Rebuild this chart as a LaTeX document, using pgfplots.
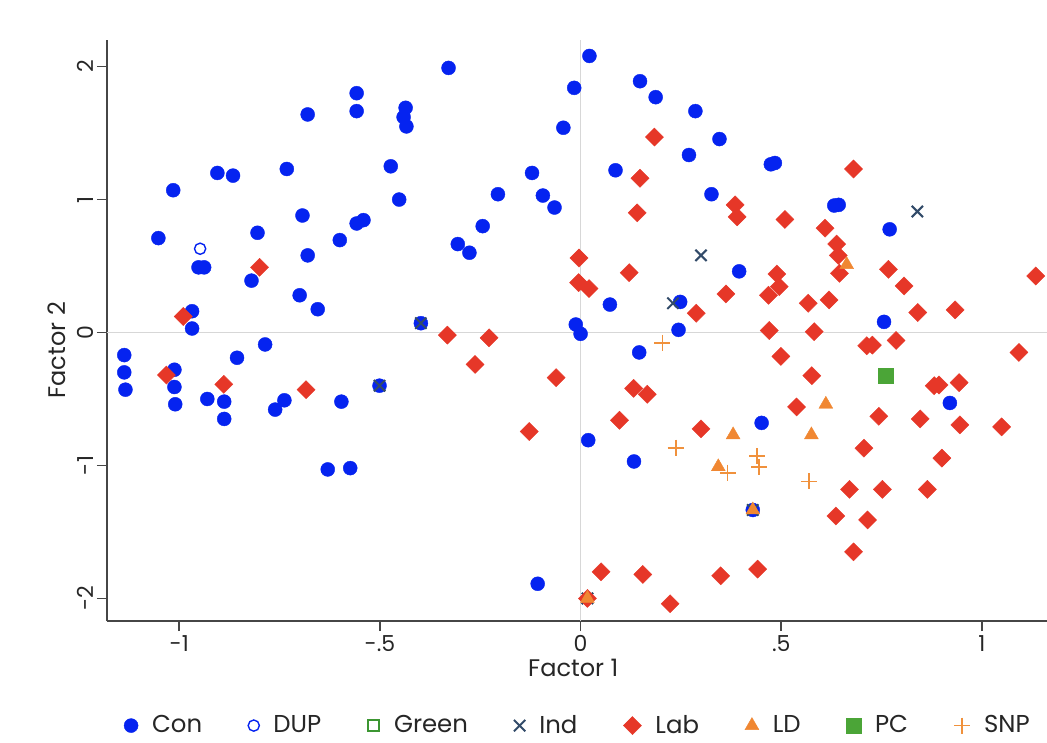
\documentclass[border=0pt]{standalone}
\usepackage{fontspec}
\setmainfont{Poppins}
\usepackage{pgfplots}
\pgfplotsset{compat=1.18}
\definecolor{conc}{RGB}{5,35,240}
\definecolor{labc}{RGB}{230,55,40}
\definecolor{ldc}{RGB}{240,135,50}
\definecolor{snpc}{RGB}{240,145,60}
\definecolor{pcc}{RGB}{75,165,55}
\definecolor{grc}{RGB}{60,150,50}
\definecolor{indc}{RGB}{50,75,105}
\definecolor{axc}{RGB}{70,70,70}
\definecolor{refc}{RGB}{215,215,215}
\begin{document}
\begin{tikzpicture}
\begin{axis}[name=ax, scale only axis, width=470pt, height=290.5pt,
  xmin=-1.18, xmax=1.162, ymin=-2.17, ymax=2.2,
  axis x line*=bottom, axis y line*=left,
  axis line style={draw=axc, line width=0.8pt},
  tick align=outside, major tick length=5pt,
  tick style={draw=axc, line width=0.8pt},
  xtick={-1,-0.5,0,0.5,1}, xticklabels={-1,-.5,0,.5,1},
  ytick={-2,-1,0,1,2}, yticklabels={-2,-1,0,1,2},
  ticklabel style={font=\fontsize{11}{13}\selectfont, text=black!85},
  yticklabel style={rotate=90, anchor=south, inner sep=0pt, yshift=1.5pt},
  xticklabel style={inner sep=2pt},
  xlabel={Factor 1}, ylabel={Factor 2},
  label style={font=\fontsize{12}{14}\selectfont, text=black!85},
  xlabel style={at={(axis description cs:0.496,-0.065)}, anchor=north, inner sep=0pt},
  ylabel style={at={(axis description cs:-0.053,0.466)}, rotate=0, anchor=center, inner sep=0pt},
  legend columns=8,
  legend style={at={(axis description cs:0.502,-0.18)}, anchor=center, draw=none,
    font=\fontsize{12.2}{14}\selectfont, text=black!85,
    /tikz/every even column/.append style={column sep=21pt},
    /tikz/every odd column/.append style={column sep=5pt},
    inner sep=0pt},
  legend cell align=left,
  clip=false,
]
\draw[refc, line width=0.8pt] (axis cs:0,-2.17) -- (axis cs:0,2.2);
\draw[refc, line width=0.8pt] (axis cs:-1.18,0) -- (axis cs:1.162,0);
% Con
\addplot[only marks, mark=*, mark size=3.5pt, mark options={draw=conc, fill=conc, line width=0.2pt}] coordinates {
(0.022,2.08) (-0.329,1.99) (0.148,1.89) (0.187,1.77) (-0.558,1.80) (-0.558,1.665)
(-0.68,1.64) (-0.436,1.69) (-0.441,1.62) (-0.434,1.55) (-0.016,1.84) (-0.043,1.54)
(0.286,1.665) (0.346,1.455) (0.27,1.335) (0.474,1.265) (0.484,1.275) (0.087,1.22)
(0.326,1.04) (-0.121,1.20) (-0.094,1.03) (-0.065,0.94) (-0.206,1.04) (-0.244,0.80)
(-0.306,0.665) (-0.277,0.60) (-0.473,1.25) (-0.452,1.00) (-0.558,0.82) (-0.541,0.845)
(-0.60,0.695) (-0.693,0.88) (-0.68,0.58) (-0.732,1.23) (-1.015,1.07) (-0.905,1.20)
(-0.866,1.18) (-0.805,0.75) (-1.052,0.71) (-0.952,0.49) (-0.938,0.49) (-0.82,0.39)
(-0.70,0.28) (-0.655,0.175) (-0.968,0.16) (-0.968,0.03) (-1.137,-0.17) (-1.137,-0.30)
(-1.134,-0.43) (-1.012,-0.28) (-1.012,-0.41) (-1.01,-0.54) (-0.93,-0.50) (-0.888,-0.52)
(-0.888,-0.65) (-0.856,-0.19) (-0.786,-0.09) (-0.738,-0.51) (-0.761,-0.58) (-0.596,-0.52)
(-0.501,-0.40) (-0.398,0.07) (-0.63,-1.03) (-0.574,-1.02) (0.632,0.955) (0.643,0.96)
(0.77,0.776) (0.395,0.46) (0.073,0.21) (0.248,0.23) (0.244,0.02) (-0.012,0.06)
(0.0,-0.01) (0.146,-0.15) (0.756,0.08) (0.92,-0.53) (0.451,-0.68) (0.019,-0.81)
(0.133,-0.97) (-0.107,-1.89) (0.429,-1.335)
};
\addlegendentry{Con}
% DUP
\addplot[only marks, mark=o, mark size=2.8pt, mark options={draw=conc, line width=0.7pt}] coordinates {(-0.948,0.63)};
\addlegendentry{DUP}
\addlegendimage{legend image code/.code={\draw[draw=grc, line width=0.8pt] (0.3cm-2.8pt,-2.8pt) rectangle (0.3cm+2.8pt,2.8pt);}}
\addlegendentry{Green}
% Ind
\addplot[only marks, mark=x, mark size=4pt, mark options={draw=indc, line width=1pt}] coordinates {
(-0.501,-0.40) (-0.398,0.07) (0.30,0.58) (0.23,0.22) (0.839,0.91) (0.429,-1.335) (0.017,-2.0)
};
\addlegendentry{Ind}
% Lab
\addplot[only marks, mark=square*, mark size=3.2pt, mark options={rotate=45, draw=labc, fill=labc, line width=0.2pt}] coordinates {
(0.184,1.47) (0.148,1.16) (0.141,0.90) (0.385,0.96) (0.39,0.87) (0.68,1.23)
(0.509,0.85) (0.609,0.785) (0.638,0.665) (0.642,0.58) (0.645,0.445) (-0.004,0.56)
(0.121,0.45) (-0.005,0.375) (0.021,0.33) (0.362,0.29) (0.288,0.145) (0.489,0.44)
(0.495,0.345) (0.468,0.28) (0.567,0.22) (0.619,0.245) (0.767,0.475) (0.806,0.35)
(0.84,0.15) (0.933,0.17) (1.134,0.425) (0.47,0.015) (0.582,0.006) (0.713,-0.10)
(0.727,-0.095) (0.786,-0.06) (1.092,-0.15) (0.499,-0.18) (0.576,-0.325) (0.881,-0.40)
(0.893,-0.395) (0.943,-0.377) (0.538,-0.56) (0.743,-0.63) (0.846,-0.65) (0.945,-0.695)
(1.049,-0.71) (0.706,-0.87) (0.90,-0.945) (0.67,-1.18) (0.752,-1.18) (0.864,-1.18)
(0.636,-1.38) (0.715,-1.41) (0.68,-1.65) (0.441,-1.78) (0.349,-1.83) (0.155,-1.82)
(0.051,-1.80) (0.223,-2.04) (0.017,-2.0) (0.30,-0.725) (0.097,-0.66) (0.132,-0.42)
(0.166,-0.465) (-0.128,-0.745) (-0.061,-0.34) (-0.332,-0.02) (-0.228,-0.04) (-0.263,-0.24)
(-0.99,0.12) (-0.80,0.49) (-1.032,-0.32) (-0.889,-0.39) (-0.684,-0.43)
};
\addlegendentry{Lab}
% LD
\addplot[only marks, mark=triangle*, mark size=4pt, mark options={draw=ldc, fill=ldc, line width=0.2pt}] coordinates {
(0.663,0.51) (0.38,-0.77) (0.611,-0.54) (0.575,-0.77) (0.343,-1.01) (0.429,-1.335) (0.017,-2.0)
};
\addlegendentry{LD}
% PC
\addplot[only marks, mark=square*, mark size=3.6pt, mark options={draw=pcc, fill=pcc, line width=0.2pt}] coordinates {(0.76,-0.325)};
\addlegendentry{PC}
% SNP
\addplot[only marks, mark=+, mark size=4pt, mark options={draw=snpc, line width=0.9pt}] coordinates {
(0.204,-0.077) (0.237,-0.866) (0.366,-1.054) (0.44,-0.93) (0.445,-1.01) (0.569,-1.12)
};
\addlegendentry{SNP}
\end{axis}
\pgfresetboundingbox
\path ([xshift=-53.5pt,yshift=-60.5pt]ax.south west) rectangle ([yshift=20pt]ax.north east);
\end{tikzpicture}
\end{document}
